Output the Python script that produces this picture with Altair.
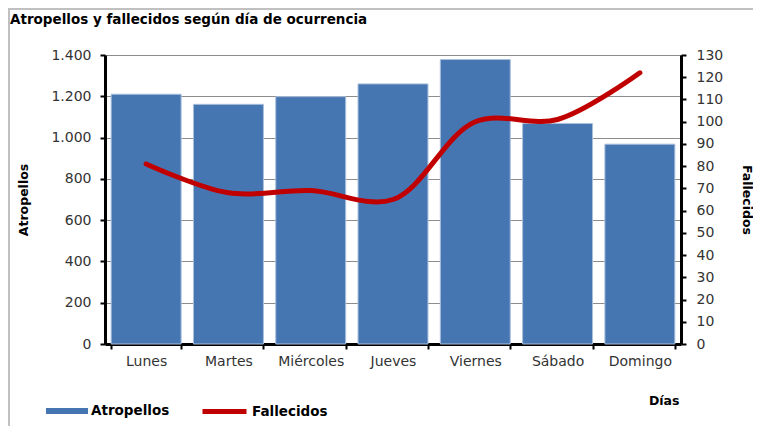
import altair as alt
import pandas as pd

dias = ["Lunes", "Martes", "Miércoles", "Jueves", "Viernes", "Sábado", "Domingo"]
atropellos = [1210, 1161, 1198, 1260, 1378, 1068, 968]
fallecidos = [81, 68, 69, 65, 100, 101, 122]
ticks_left = [0, 200, 400, 600, 800, 1000, 1200, 1400]
ticks_right = [0, 10, 20, 30, 40, 50, 60, 70, 80, 90, 100, 110, 120, 130]

df = pd.DataFrame({"Día": dias, "Atropellos": atropellos, "Fallecidos": fallecidos})
df["sb"] = "Atropellos"
df["sl"] = "Fallecidos"

FONT = "DejaVu Sans"
W, H = 576, 289
BLUE = "#4676B2"
RED = "#C00000"

x_enc = alt.X(
    "Día:N", sort=dias,
    scale=alt.Scale(paddingInner=0.15, paddingOuter=0.075),
    axis=alt.Axis(
        title="Días", tickBand="extent", domainColor="black", domainWidth=3,
        tickColor="black", tickWidth=2, tickSize=5, labelAngle=0,
        labelFont=FONT, labelFontSize=14, labelColor="#333", labelPadding=5,
        titleFont=FONT, titleFontSize=12.5, titleFontWeight="bold", titleColor="black",
        titleAlign="right", titleBaseline="middle", titleX=W - 2, titleY=56,
    ),
)

frame = alt.Chart(pd.DataFrame({"a": [0]})).mark_rect(
    fill="transparent", stroke="#c0c0c0", strokeWidth=2
).encode(x=alt.value(-96), x2=alt.value(720), y=alt.value(-46), y2=alt.value(440))

bars = alt.Chart(df).mark_bar(stroke="#a9bfdc", strokeWidth=1).encode(
    x=x_enc,
    y=alt.Y(
        "Atropellos:Q", scale=alt.Scale(domain=[0, 1400], nice=False),
        axis=alt.Axis(
            values=ticks_left, title="Atropellos", grid=True, gridColor="#8c8c8c",
            gridWidth=1, domainColor="black", domainWidth=3, tickColor="black",
            tickWidth=2, tickSize=5, labelFont=FONT, labelFontSize=14,
            labelColor="#333", labelPadding=9,
            labelExpr="replace(format(datum.value, ','), ',', '.')",
            titleFont=FONT, titleFontSize=12.5, titleFontWeight="bold", titleColor="black",
            titleAngle=270, titleX=-82, titleY=H / 2, titleAlign="center",
            titleBaseline="middle",
        ),
    ),
    fill=alt.Fill(
        "sb:N", scale=alt.Scale(domain=["Atropellos"], range=[BLUE]),
        legend=alt.Legend(
            title=None, orient="none", legendX=-59, legendY=335,
            symbolType="M-1,-0.14H1V0.14H-1Z", symbolSize=1764, symbolStrokeWidth=0,
            labelFont=FONT, labelFontSize=13.5, labelFontWeight="bold", labelColor="black",
            labelOffset=3,
        ),
    ),
)

line = alt.Chart(df).mark_line(
    interpolate="catmull-rom", strokeWidth=5, strokeCap="round"
).encode(
    x=x_enc,
    y=alt.Y(
        "Fallecidos:Q", scale=alt.Scale(domain=[0, 130], nice=False),
        axis=alt.Axis(
            orient="right", values=ticks_right, title="Fallecidos", grid=False,
            domainColor="black", domainWidth=3, tickColor="black", tickWidth=2,
            tickSize=5, labelFont=FONT, labelFontSize=14, labelColor="#333",
            labelPadding=10, titleFont=FONT, titleFontSize=12.5, titleFontWeight="bold",
            titleColor="black", titleAngle=90, titleX=65, titleY=H / 2,
            titleAlign="center", titleBaseline="middle",
        ),
    ),
    stroke=alt.Stroke(
        "sl:N", scale=alt.Scale(domain=["Fallecidos"], range=[RED]),
        legend=alt.Legend(
            title=None, orient="none", legendX=95, legendY=332,
            symbolType="stroke", symbolSize=1936, symbolStrokeWidth=5,
            labelFont=FONT, labelFontSize=13.5, labelFontWeight="bold", labelColor="black",
            labelOffset=3,
        ),
    ),
)

chart = alt.layer(frame, bars, line).resolve_scale(
    y="independent", fill="independent", stroke="independent"
).properties(
    width=W, height=H,
    autosize=alt.AutoSizeParams(type="none"),
    padding={"left": 97, "top": 47, "right": 72, "bottom": 82},
    title=alt.TitleParams(
        "Atropellos y fallecidos según día de ocurrencia", anchor="start",
        frame="group", dx=-95, dy=18, offset=0, font=FONT, fontSize=13.5,
        fontWeight="bold", color="black",
    ),
).configure_view(stroke=None)

chart.save("out.html", embed_options={"renderer": "svg", "actions": False})
